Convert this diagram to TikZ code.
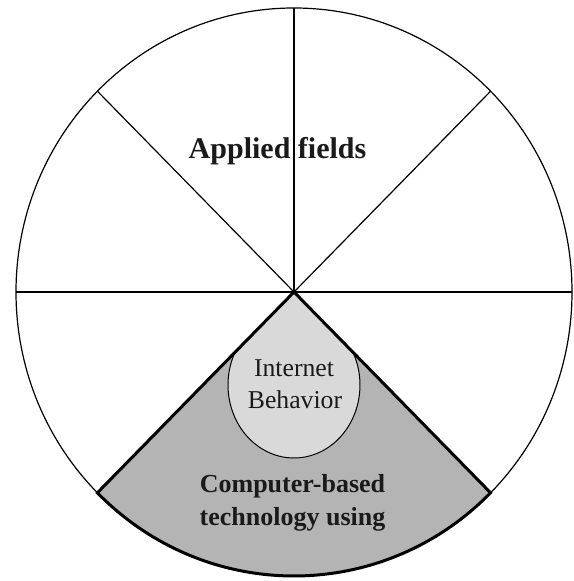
\documentclass[tikz,border=0pt]{standalone}
\usepackage{fontspec}
\setmainfont{Liberation Serif}
\usetikzlibrary{calc}
\definecolor{darkfill}{HTML}{B4B4B4}
\definecolor{lightfill}{HTML}{D9D9D9}
\definecolor{ink}{HTML}{1A1A1A}
\begin{document}
\begin{tikzpicture}[x=1pt,y=1pt,
  thinline/.style={draw=black,line width=1.2pt},
  thickline/.style={draw=black,line width=3pt,line join=miter},
  boldlabel/.style={inner sep=0pt,anchor=base,text=ink,font=\bfseries\fontsize{26}{30}\selectfont},
  plainlabel/.style={inner sep=0pt,anchor=base,text=ink,font=\fontsize{25.7}{30}\selectfont}]
\useasboundingbox (0,0) rectangle (573,581);
% key points
\coordinate (c) at (294,289);
\coordinate (top) at (294,573);
\coordinate (left) at (16,289);
\coordinate (right) at (572,289);
\coordinate (ul) at (97.4,489.8);
\coordinate (ur) at (490.6,489.8);
\coordinate (ll) at (97.4,88.2);
\coordinate (lr) at (490.6,88.2);
\coordinate (e) at (294,196);
% dark sector
\fill[darkfill] (c) -- (ll) arc[start angle=225,end angle=315,x radius=278pt,y radius=284pt] -- cycle;
% light region (ellipse plus top of sector)
\begin{scope}
  \clip (c) -- (ll) arc[start angle=225,end angle=315,x radius=278pt,y radius=284pt] -- cycle;
  \fill[lightfill] (e) ellipse[x radius=66pt,y radius=73pt];
  \fill[lightfill] (0,228.8) rectangle (573,300);
\end{scope}
% outer circle and spokes
\draw[thinline] (c) ellipse[x radius=278pt,y radius=284pt];
\draw[thinline] (left) -- (right);
\draw[thinline] (c) -- (top);
\draw[thinline] (c) -- (ul);
\draw[thinline] (c) -- (ur);
% thick sector border
\draw[thickline] (c) -- (ll) arc[start angle=225,end angle=315,x radius=278pt,y radius=284pt] -- cycle;
% inner ellipse outline
\draw[line width=1pt] ($(e)+(153.3:66pt and 73pt)$) arc[start angle=153.3,end angle=386.7,x radius=66pt,y radius=73pt];
% labels
\node[boldlabel,font=\bfseries\fontsize{30}{34}\selectfont] (applied) at (277.5,422) {Applied fields};
\node[plainlabel] (ib1) at (294,204) {Internet};
\node[plainlabel] (ib2) at (295,172) {Behavior};
\node[boldlabel] (cb1) at (292.5,88) {Computer-based};
\node[boldlabel] (cb2) at (292.5,55) {technology using};
\end{tikzpicture}
\end{document}
